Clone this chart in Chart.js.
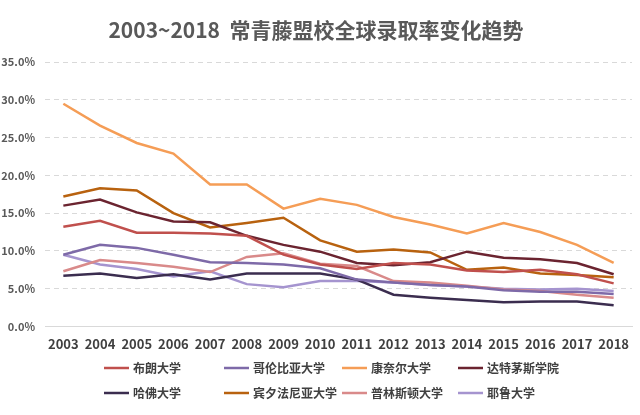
<!DOCTYPE html>
<html>
<head>
<meta charset="utf-8">
<script src="https://cdn.jsdelivr.net/npm/chart.js@4/dist/chart.umd.min.js"></script>
<style>
  html, body { margin: 0; padding: 0; background: #ffffff; }
  #wrap { width: 640px; height: 415px; }
</style>
</head>
<body>
<div id="wrap"><canvas id="c" width="640" height="415"></canvas></div>
<script>
const years = ['2003','2004','2005','2006','2007','2008','2009','2010','2011','2012','2013','2014','2015','2016','2017','2018'];
const seriesNames = ['布朗大学','哥伦比亚大学','康奈尔大学','达特茅斯学院','哈佛大学','宾夕法尼亚大学','普林斯顿大学','耶鲁大学'];
const brown      = [13.2, 14.0, 12.4, 12.4, 12.3, 12.0, 9.5, 8.2, 7.6, 8.4, 8.2, 7.4, 7.2, 7.5, 6.9, 5.7];
const columbia   = [9.5, 10.8, 10.4, 9.5, 8.5, 8.4, 8.2, 7.7, 6.2, 5.8, 5.5, 5.3, 4.8, 4.6, 4.6, 4.3];
const cornell    = [29.5, 26.6, 24.3, 22.9, 18.8, 18.8, 15.6, 16.9, 16.1, 14.5, 13.5, 12.3, 13.7, 12.5, 10.8, 8.4];
const dartmouth  = [16.0, 16.8, 15.1, 13.9, 13.8, 12.0, 10.8, 9.9, 8.4, 8.1, 8.5, 9.9, 9.1, 8.9, 8.4, 6.9];
const harvard    = [6.7, 7.0, 6.4, 6.9, 6.2, 7.0, 7.0, 7.0, 6.2, 4.2, 3.8, 3.5, 3.2, 3.3, 3.3, 2.8];
const penn       = [17.2, 18.3, 18.0, 15.0, 13.1, 13.7, 14.4, 11.4, 9.9, 10.2, 9.8, 7.5, 7.8, 7.0, 6.8, 6.5];
const princeton  = [7.3, 8.8, 8.4, 7.9, 7.2, 9.2, 9.7, 8.3, 8.0, 6.0, 5.8, 5.4, 4.9, 4.7, 4.2, 3.8];
const yale       = [9.5, 8.2, 7.6, 6.6, 7.3, 5.6, 5.2, 6.0, 6.0, 5.8, 5.5, 5.3, 5.0, 4.9, 5.0, 4.7];
const yTicks = [0, 5, 10, 15, 20, 25, 30, 35];

const seriesValues = [brown, columbia, cornell, dartmouth, harvard, penn, princeton, yale];
const colors = ['#c0504d', '#7e6aa8', '#f59d56', '#6b2430', '#3b2d4f', '#b8620f', '#d98a8a', '#a594cf'];

const CJK = '"Noto Sans CJK SC", "Noto Sans", sans-serif';

const gridLegend = {
  id: 'gridLegend',
  afterDraw(chart) {
    const ctx = chart.ctx;
    const colX = [104, 224, 342, 458];
    const rowY = [368, 393];
    ctx.save();
    ctx.font = 'bold 12px ' + CJK;
    ctx.textBaseline = 'middle';
    ctx.textAlign = 'left';
    chart.data.datasets.forEach((ds, i) => {
      const x = colX[i % 4];
      const y = rowY[Math.floor(i / 4)];
      ctx.strokeStyle = ds.borderColor;
      ctx.lineWidth = 2.5;
      ctx.beginPath();
      ctx.moveTo(x, y);
      ctx.lineTo(x + 25, y);
      ctx.stroke();
      ctx.fillStyle = '#404040';
      ctx.fillText(ds.label, x + 29, y);
    });
    ctx.restore();
  }
};

new Chart(document.getElementById('c'), {
  type: 'line',
  data: {
    labels: years,
    datasets: seriesNames.map((name, i) => ({
      label: name,
      data: seriesValues[i],
      borderColor: colors[i],
      backgroundColor: colors[i],
      borderWidth: 2.5,
      pointRadius: 0,
      tension: 0,
      fill: false
    }))
  },
  options: {
    responsive: false,
    animation: false,
    layout: { padding: { left: 0, right: 8, top: 0, bottom: 53 } },
    plugins: {
      legend: { display: false },
      tooltip: { enabled: false },
      title: {
        display: true,
        text: '2003~2018  常青藤盟校全球录取率变化趋势',
        color: '#595959',
        font: { family: CJK, size: 21, weight: 'bold' },
        padding: { top: 17, bottom: 20 }
      }
    },
    scales: {
      x: {
        offset: true,
        grid: { display: false, drawTicks: false },
        border: { display: true, color: '#d9d9d9', width: 1 },
        ticks: {
          color: '#404040',
          padding: 10,
          maxRotation: 0,
          autoSkip: false,
          font: { family: CJK, size: 13, weight: 'bold' }
        }
      },
      y: {
        min: 0,
        max: 35,
        afterFit(scale) { scale.width = 45; },
        afterBuildTicks(scale) { scale.ticks = yTicks.map(v => ({ value: v })); },
        grid: {
          drawTicks: false,
          color: (c) => (c.tick && c.tick.value === 0) ? 'rgba(0,0,0,0)' : '#d9d9d9',
          lineWidth: 1
        },
        border: { display: false, dash: [5, 4] },
        ticks: {
          color: '#595959',
          padding: 10,
          font: { family: CJK, size: 11, weight: 'bold' },
          callback: (v) => Number(v).toFixed(1) + '%'
        }
      }
    }
  },
  plugins: [gridLegend]
});
</script>
</body>
</html>
